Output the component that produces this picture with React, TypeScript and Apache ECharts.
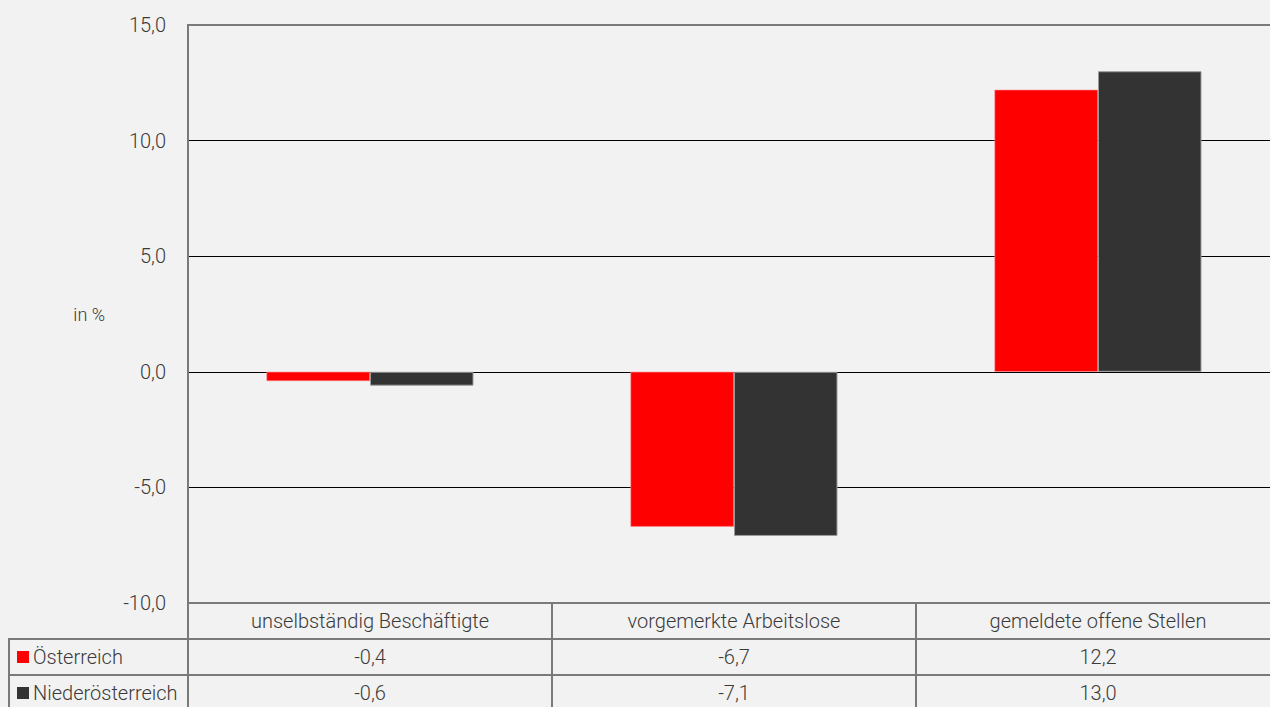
import React, { useEffect, useRef } from "react";
import * as echarts from "echarts";

const categories = ["unselbständig Beschäftigte", "vorgemerkte Arbeitslose", "gemeldete offene Stellen"];
const seriesNames = ["Österreich", "Niederösterreich"];
const oesterreich = [-0.4, -6.7, 12.2];
const niederoesterreich = [-0.6, -7.1, 13.0];
const yMin = -10;
const yMax = 15;
const yInterval = 5;
const yAxisName = "in %";

const fmt = (v: number) => v.toFixed(1).replace(".", ",");

const FONT = "Roboto";
const TEXT = "#3a3a3a";
const LINE = "#7a7a7a";

export default function App() {
  const ref = useRef<HTMLDivElement>(null);
  useEffect(() => {
    if (!ref.current) return;
    const chart = echarts.init(ref.current, undefined, { renderer: "svg" });
    const labelStyle = { fontFamily: FONT, fontWeight: 300 as any, fontSize: 20, color: TEXT };
    chart.setOption({
      animation: false,
      backgroundColor: "#f2f2f2",
      textStyle: { fontFamily: FONT },
      grid: {
        left: 188,
        top: 25,
        right: 0,
        bottom: 104,
        show: true,
        borderColor: LINE,
        borderWidth: 2,
        backgroundColor: "transparent",
      },
      legend: {
        orient: "vertical",
        left: 17,
        top: 646,
        padding: 0,
        itemGap: 14,
        itemWidth: 12,
        itemHeight: 12,
        icon: "rect",
        selectedMode: false,
        data: seriesNames,
        itemStyle: { borderWidth: 0 },
        textStyle: { ...labelStyle, lineHeight: 22, padding: [0, 0, 0, -1] },
      },
      xAxis: [
        {
          type: "category",
          data: categories,
          position: "bottom",
          axisLine: { show: true, onZero: false, lineStyle: { color: LINE, width: 2 } },
          axisTick: { show: true, length: 110, lineStyle: { color: LINE, width: 2 } },
          axisLabel: { ...labelStyle, margin: 8, interval: 0 },
          splitLine: { show: false },
        },
        {
          type: "category",
          data: oesterreich.map(fmt),
          position: "bottom",
          offset: 36,
          axisLine: { show: true, onZero: false, lineStyle: { color: LINE, width: 2 } },
          axisTick: { show: false },
          axisLabel: { ...labelStyle, margin: 8, interval: 0 },
        },
        {
          type: "category",
          data: niederoesterreich.map(fmt),
          position: "bottom",
          offset: 72,
          axisLine: { show: true, onZero: false, lineStyle: { color: LINE, width: 2 } },
          axisTick: { show: false },
          axisLabel: { ...labelStyle, margin: 8, interval: 0 },
        },
      ],
      yAxis: {
        type: "value",
        min: yMin,
        max: yMax,
        interval: yInterval,
        name: yAxisName,
        nameLocation: "middle",
        nameRotate: 0,
        nameGap: 83,
        nameTextStyle: {
          fontFamily: FONT,
          fontWeight: 300,
          fontSize: 18,
          color: TEXT,
          align: "right",
          verticalAlign: "middle",
          padding: [4, 0, 0, 0],
        },
        axisLine: { show: true, lineStyle: { color: LINE, width: 2 } },
        axisTick: { show: false },
        axisLabel: { ...labelStyle, margin: 22, formatter: (v: number) => fmt(v) },
        splitLine: {
          show: true,
          showMinLine: false,
          showMaxLine: false,
          lineStyle: { color: "#000000", width: 1 },
        },
      },
      series: [
        {
          name: seriesNames[0],
          type: "bar",
          data: oesterreich,
          barWidth: 103.5,
          barGap: "0%",
          itemStyle: { color: "#ff0000", borderColor: "#ff8a8a", borderWidth: 0.6 },
        },
        {
          name: seriesNames[1],
          type: "bar",
          data: niederoesterreich,
          barWidth: 103.5,
          barGap: "0%",
          itemStyle: { color: "#333333", borderColor: "#9a9a9a", borderWidth: 1 },
        },
      ],
      graphic: [
        { type: "line", shape: { x1: 8, y1: 639, x2: 188, y2: 639 }, style: { stroke: LINE, lineWidth: 2 } },
        { type: "line", shape: { x1: 8, y1: 675, x2: 188, y2: 675 }, style: { stroke: LINE, lineWidth: 2 } },
        { type: "line", shape: { x1: 9, y1: 638, x2: 9, y2: 707 }, style: { stroke: LINE, lineWidth: 2 } },
      ],
    });
    return () => chart.dispose();
  }, []);
  return (
    <div style={{ position: "absolute", left: 0, top: 0, width: 1270, height: 707, overflow: "hidden" }}>
      <div ref={ref} style={{ width: 1280, height: 707 }} />
    </div>
  );
}
